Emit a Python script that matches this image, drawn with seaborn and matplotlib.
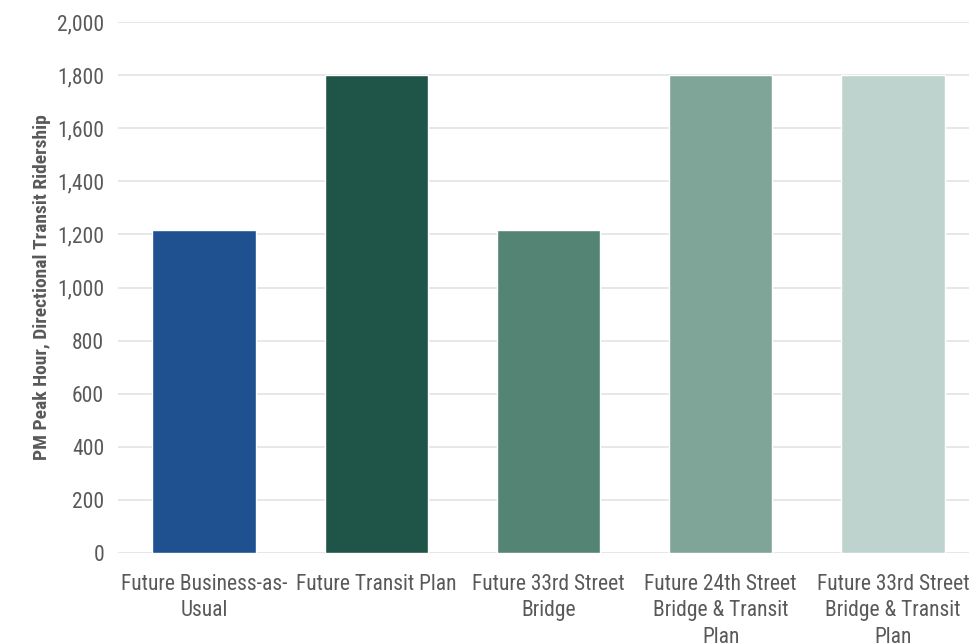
import matplotlib
matplotlib.use("Agg")
import matplotlib.pyplot as plt
import seaborn as sns
import pandas as pd

scenarios = [
    "Future Business-as-\nUsual",
    "Future Transit Plan",
    "Future 33rd Street\nBridge",
    "Future 24th Street\nBridge & Transit\nPlan",
    "Future 33rd Street\nBridge & Transit\nPlan",
]
ridership = [1218, 1800, 1218, 1800, 1800]
bar_colors = ["#1F5190", "#1F5448", "#548474", "#7FA598", "#BFD3CE"]
y_ticks = [0, 200, 400, 600, 800, 1000, 1200, 1400, 1600, 1800, 2000]

sns.set_theme(style="white")
plt.rcParams["font.family"] = ["Roboto Condensed", "DejaVu Sans"]

df = pd.DataFrame({"scenario": scenarios, "riders": ridership})

fig = plt.figure(figsize=(9.7, 6.44), dpi=100)
ax = fig.add_axes([118 / 970, (644 - 553) / 644, (979 - 118) / 970, (553 - 22) / 644])

sns.barplot(data=df, x="scenario", y="riders", hue="scenario", palette=bar_colors,
            width=0.6, legend=False, ax=ax, saturation=1)

text_color = "#595959"
ax.set_ylim(0, 2000)
ax.set_yticks(y_ticks)
ax.set_yticklabels([f"{v:,}" for v in y_ticks], fontsize=15.5, color=text_color)
ax.tick_params(axis="x", labelsize=15.5, colors=text_color, length=0, pad=15)
ax.tick_params(axis="y", length=0, pad=10)
for lbl in ax.get_xticklabels():
    lbl.set_linespacing(1.35)
ax.yaxis.grid(True, color="#E3E3E3", linewidth=1.2)
ax.set_axisbelow(True)
for s in ax.spines.values():
    s.set_visible(False)
ax.set_xlabel("")
ax.set_ylabel("PM Peak Hour, Directional Transit Ridership", fontsize=14,
              fontweight="bold", color=text_color, labelpad=4)

fig.savefig("out.png", dpi=100, facecolor="white")
